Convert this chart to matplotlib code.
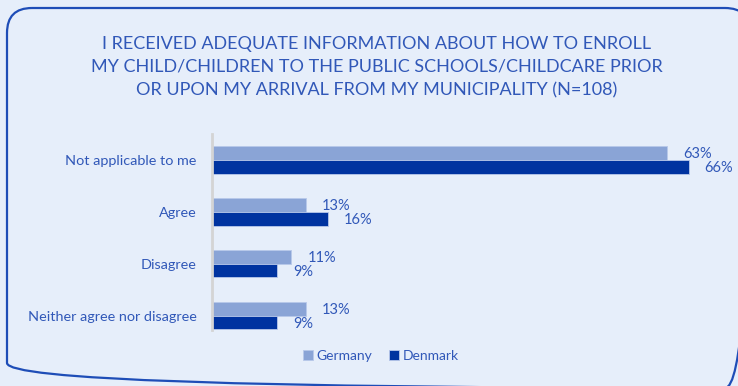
import matplotlib.pyplot as plt
from matplotlib.patches import FancyBboxPatch

categories = ["Not applicable to me", "Agree", "Disagree", "Neither agree nor disagree"]
germany = [63, 13, 11, 13]
denmark = [66, 16, 9, 9]
series_names = ["Germany", "Denmark"]
title = ("I RECEIVED ADEQUATE INFORMATION ABOUT HOW TO ENROLL\n"
         "MY CHILD/CHILDREN TO THE PUBLIC SCHOOLS/CHILDCARE PRIOR\n"
         "OR UPON MY ARRIVAL FROM MY MUNICIPALITY (N=108)")

bg = "#E6EEFA"
text_col = "#3158B8"
col_de = "#8AA4D6"
col_dk = "#0033A0"

plt.rcParams['font.family'] = ['Lato', 'DejaVu Sans']

W, H = 738, 386
fig = plt.figure(figsize=(W / 100, H / 100), dpi=100)
fig.patch.set_facecolor(bg)

# background layer in pixel units for the rounded frame
bg_ax = fig.add_axes([0, 0, 1, 1])
bg_ax.set_xlim(0, W)
bg_ax.set_ylim(H, 0)
bg_ax.axis("off")
frame = FancyBboxPatch((7, 8), 743, 380, boxstyle="round,pad=0,rounding_size=25",
                       facecolor="none", edgecolor="#1E4DB7", linewidth=1.6)
bg_ax.add_patch(frame)

fig.text(377 / W, 1 - 67 / H, title, ha="center", va="center",
         fontsize=13, color=text_col, linespacing=1.55)

ax = fig.add_axes([212 / W, 1 - 330 / H, 500 / W, 196 / H])
ax.set_facecolor("none")

h = 0.26
y = list(range(len(categories)))
b1 = ax.barh([v - h / 2 for v in y], germany, height=h, color=col_de,
             edgecolor="#B8C8EA", linewidth=0.6, label=series_names[0])
b2 = ax.barh([v + h / 2 for v in y], denmark, height=h, color=col_dk,
             edgecolor="#B8C8EA", linewidth=0.6, label=series_names[1])

for bars, vals in ((b1, germany), (b2, denmark)):
    for bar, v in zip(bars, vals):
        ax.annotate(f"{v}%", (bar.get_width(), bar.get_y() + bar.get_height() / 2),
                    xytext=(16, -1), textcoords="offset pixels",
                    ha="left", va="center", fontsize=10.5, color=text_col)

ax.set_xlim(0, 69.25)
ax.set_ylim(3.27, -0.5)
ax.set_yticks(y)
ax.set_yticklabels(categories, fontsize=10.4, color=text_col)
ax.tick_params(axis="y", length=0, pad=11)
ax.set_xticks([])
for s in ["top", "right", "bottom"]:
    ax.spines[s].set_visible(False)
ax.spines["left"].set_color("#D4D4D4")
ax.spines["left"].set_linewidth(2)

leg = fig.legend(handles=[b1, b2], loc="center", bbox_to_anchor=(381 / W, 1 - 356 / H),
                 ncol=2, frameon=False, fontsize=10, handlelength=0.7, handleheight=0.7,
                 handletextpad=0.3, columnspacing=1.2)
for t in leg.get_texts():
    t.set_color(text_col)

fig.savefig("out.png", dpi=100, facecolor=bg)
